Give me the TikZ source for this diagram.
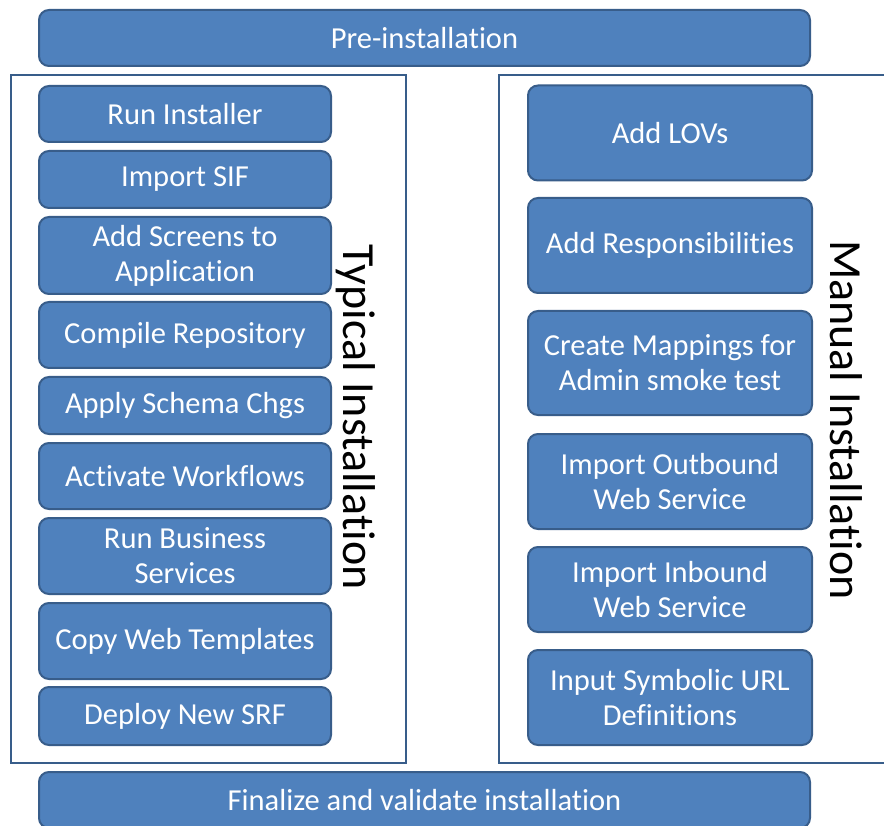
\documentclass[tikz,border=0pt]{standalone}
\usepackage{fontspec}
\setmainfont{Carlito}[Ligatures=NoCommon]
\usetikzlibrary{positioning}
\definecolor{stepblue}{HTML}{4F81BD}
\definecolor{stepedge}{HTML}{385D8A}
\tikzset{
  task/.style={draw=stepedge, fill=stepblue, line width=2pt, rounded corners=10pt,
    text=white, align=center, font=\fontsize{30.5}{35}\selectfont, inner sep=0pt},
  lefttask/.style={task, minimum width=292},
  righttask/.style={task, minimum width=284},
  group/.style={draw=stepedge, line width=2.2pt},
  grouplabel/.style={rotate=-90, font=\fontsize{46}{50}\selectfont},
}

\begin{document}
\begin{tikzpicture}[x=1pt, y=-1pt]
    \clip (0,0) rectangle (884,826);
    \fill[white] (0,0) rectangle (884,826);

    % phases
    \node[task, minimum width=771, minimum height=56] (pre) at (424.5,38) {Pre-installation};
    \node[task, minimum width=771, minimum height=56] (final) at (424.5,800) {Finalize and validate installation};

    % groups
    \draw[group] (11,75) rectangle (406,763);
    \draw[group] (499,75) rectangle (900,763);
    \node[grouplabel] (typical) at (356,417) {Typical Installation};
    \node[grouplabel] (manual) at (846,420) {Manual Installation};

    % typical steps
    \node[lefttask, minimum height=56] (runinst)  at (185,114)   {Run Installer};
    \node[lefttask, minimum height=57] (sif)      at (185,179.5) {Import SIF};
    \node[lefttask, minimum height=77] (screens)  at (185,255.5) {Add Screens to\\Application};
    \node[lefttask, minimum height=66] (compile)  at (185,335)   {Compile Repository};
    \node[lefttask, minimum height=57] (schema)   at (185,405.5) {Apply Schema Chgs};
    \node[lefttask, minimum height=66] (workflow) at (185,476)   {Activate Workflows};
    \node[lefttask, minimum height=76] (business) at (185,556)   {Run Business\\Services};
    \node[lefttask, minimum height=76] (webtmpl)  at (185,641)   {Copy Web Templates};
    \node[lefttask, minimum height=58] (srf)      at (185,716)   {Deploy New SRF};

    % manual steps
    \node[righttask, minimum height=95]  (lovs)     at (670,133)   {Add LOVs};
    \node[righttask, minimum height=95]  (resp)     at (670,245.5) {Add Responsibilities};
    \node[righttask, minimum height=104] (mappings) at (670,363)   {Create Mappings for\\Admin smoke test};
    \node[righttask, minimum height=95]  (outbound) at (670,481.5) {Import Outbound\\Web Service};
    \node[righttask, minimum height=85]  (inbound)  at (670,589.5) {Import Inbound\\Web Service};
    \node[righttask, minimum height=95]  (symurl)   at (670,697.5) {Input Symbolic URL\\Definitions};
  \end{tikzpicture}
\end{document}
